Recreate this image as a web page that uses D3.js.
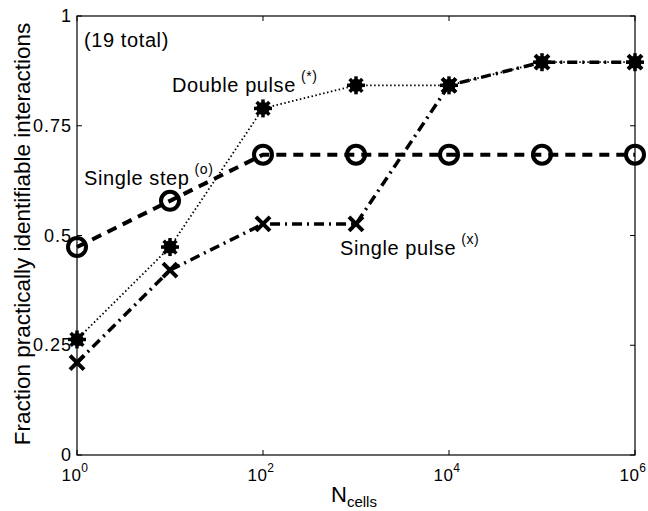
<!DOCTYPE html>
<html>
<head>
<meta charset="utf-8">
<script src="https://cdn.jsdelivr.net/npm/d3@7"></script>
<style>
  body { margin: 0; background: #fff; }
  text { font-family: "Liberation Sans", Helvetica, Arial, sans-serif; fill: #000; }
</style>
</head>
<body>
<div id="chart"></div>
<script>
// number of cells (x)
const nCells = [1, 10, 100, 1000, 10000, 100000, 1000000];
// fractions out of 19 interactions
const singleStep = [9, 11, 13, 13, 13, 13, 13].map(v => v / 19);
const doublePulse = [5, 9, 15, 16, 16, 17, 17].map(v => v / 19);
const singlePulse = [4, 8, 10, 10, 16, 17, 17].map(v => v / 19);
const xTicks = [1, 100, 10000, 1000000];
const yTicks = [0, 0.25, 0.5, 0.75, 1];

const W = 648, H = 511;
const margin = { top: 16, right: 13, bottom: 56, left: 77 };
const width = W - margin.left - margin.right;
const height = H - margin.top - margin.bottom;

const svg = d3.select("#chart").append("svg")
    .attr("width", W)
    .attr("height", H);

const g = svg.append("g")
    .attr("transform", `translate(${margin.left},${margin.top})`);

const x = d3.scaleLog().domain([1, 1e6]).range([0, width]);
const y = d3.scaleLinear().domain([0, 1]).range([height, 0]);

// box
g.append("rect")
    .attr("width", width).attr("height", height)
    .attr("fill", "none").attr("stroke", "#000").attr("stroke-width", 1.2);

// ticks (inward, on all four sides)
const tl = 5;
xTicks.forEach(t => {
    g.append("line").attr("x1", x(t)).attr("x2", x(t)).attr("y1", height).attr("y2", height - tl).attr("stroke", "#000");
    g.append("line").attr("x1", x(t)).attr("x2", x(t)).attr("y1", 0).attr("y2", tl).attr("stroke", "#000");
    const lab = g.append("text")
        .attr("x", x(t) - 2).attr("y", height + 26)
        .attr("text-anchor", "middle")
        .style("font-size", "17px")
        .style("letter-spacing", "0.5px");
    lab.append("tspan").text("10");
    lab.append("tspan").attr("dy", -9).style("font-size", "12px").text(Math.round(Math.log10(t)));
});
yTicks.forEach(t => {
    g.append("line").attr("x1", 0).attr("x2", tl).attr("y1", y(t)).attr("y2", y(t)).attr("stroke", "#000");
    g.append("line").attr("x1", width).attr("x2", width - tl).attr("y1", y(t)).attr("y2", y(t)).attr("stroke", "#000");
    g.append("text")
        .attr("x", -5).attr("y", y(t) + 6)
        .attr("text-anchor", "end")
        .style("font-size", "18px")
        .style("letter-spacing", "1px")
        .text(t);
});

const line = d3.line().x((d, i) => x(nCells[i])).y(d => y(d));

// series lines
g.append("path").datum(doublePulse)
    .attr("d", line).attr("fill", "none").attr("stroke", "#000")
    .attr("stroke-width", 1.8).attr("stroke-dasharray", "1.5,2.5");
g.append("path").datum(singleStep)
    .attr("d", line).attr("fill", "none").attr("stroke", "#000")
    .attr("stroke-width", 4).attr("stroke-dasharray", "10,7");
g.append("path").datum(singlePulse)
    .attr("d", line).attr("fill", "none").attr("stroke", "#000")
    .attr("stroke-width", 3.5).attr("stroke-dasharray", "10,5,2,5");

// markers
g.selectAll(".o").data(singleStep).enter().append("circle")
    .attr("cx", (d, i) => x(nCells[i])).attr("cy", d => y(d))
    .attr("r", 9).attr("fill", "none").attr("stroke", "#000").attr("stroke-width", 4);

g.selectAll(".x").data(singlePulse).enter().append("path")
    .attr("transform", (d, i) => `translate(${x(nCells[i])},${y(d)})`)
    .attr("d", "M-7,-7L7,7M-7,7L7,-7")
    .attr("stroke", "#000").attr("stroke-width", 4).attr("fill", "none");

g.selectAll(".s").data(doublePulse).enter().append("g")
    .attr("transform", (d, i) => `translate(${x(nCells[i])},${y(d)})`)
    .each(function () {
        const s = d3.select(this);
        s.append("circle").attr("r", 6.5).attr("fill", "#000");
        [0, 45, 90, 135].forEach(a => {
            s.append("line").attr("x1", -9).attr("x2", 9)
                .attr("transform", `rotate(${a})`)
                .attr("stroke", "#000").attr("stroke-width", 3.5);
        });
    });

// annotations
function note(px, py, main, sup) {
    const t = g.append("text")
        .attr("x", px).attr("y", py)
        .style("font-size", "20px")
        .style("letter-spacing", "0.6px");
    t.append("tspan").text(main);
    if (sup) t.append("tspan").attr("dx", 5).attr("dy", -11).style("font-size", "14px").text(sup);
}
note(7, 31, "(19 total)");
note(95, 76, "Double pulse", "(*)");
note(7, 169, "Single step", "(o)");
note(263, 239, "Single pulse", "(x)");

// axis labels
svg.append("text")
    .attr("transform", `translate(30,234) rotate(-90)`)
    .attr("text-anchor", "middle")
    .style("font-size", "22.5px")
    .text("Fraction practically identifiable interactions");

const xl = svg.append("text")
    .attr("x", 331).attr("y", 502)
    .style("font-size", "22px");
xl.append("tspan").text("N");
xl.append("tspan").attr("dy", 5).style("font-size", "15px").text("cells");
</script>
</body>
</html>
